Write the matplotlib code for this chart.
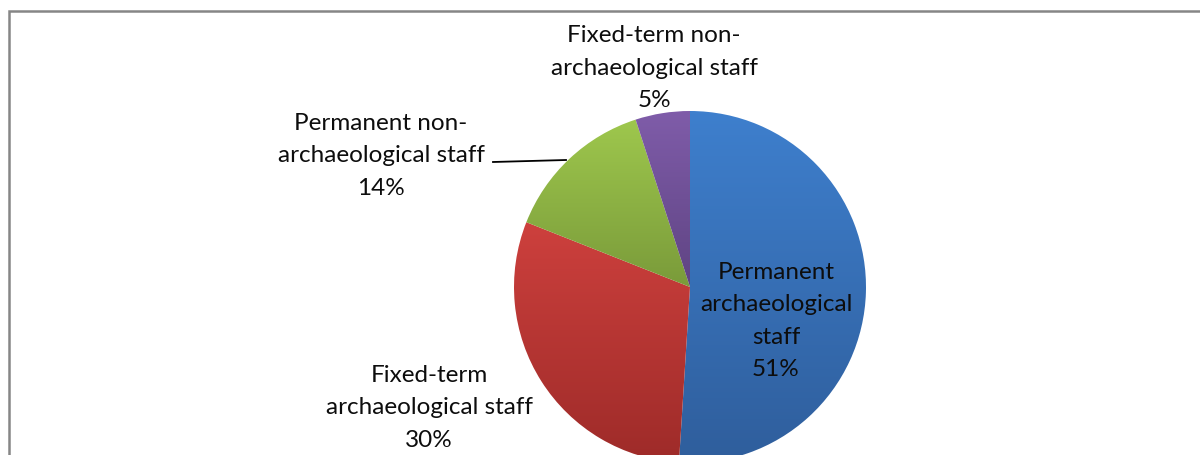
import numpy as np
import matplotlib.pyplot as plt
from matplotlib.colors import to_rgb
from matplotlib.patches import Rectangle

# staff breakdown
labels = ["Permanent\narchaeological\nstaff", "Fixed-term\narchaeological staff",
          "Permanent non-\narchaeological staff", "Fixed-term non-\narchaeological staff"]
shares = [51, 30, 14, 5]

# light (top) / dark (bottom) colour of each slice's gradient
tops = ["#3e7fcd", "#cd403d", "#9ec74d", "#7f5ca9"]
bottoms = ["#2f5e9c", "#9e2b29", "#7a9b3a", "#5f4483"]

plt.rcParams['font.family'] = ['Lato', 'DejaVu Sans']

W, H = 1200, 456
fig = plt.figure(figsize=(12, 4.56), dpi=100)
ax = fig.add_axes([0, 0, 1, 1])

cx, cy, r = 690, H - 288, 176
wedges, _ = ax.pie(shares, startangle=90, counterclock=False, radius=r,
                   center=(cx, cy), frame=True)
ax.set_xlim(0, W)
ax.set_ylim(0, H)
ax.set_aspect('equal')
ax.axis('off')

# vertical gradient inside every wedge
for w, c1, c2 in zip(wedges, tops, bottoms):
    w.set_facecolor('none')
    w.set_edgecolor('none')
    verts = w.get_patch_transform().transform(w.get_path().vertices)
    y0, y1 = verts[:, 1].min(), verts[:, 1].max()
    a, b = np.array(to_rgb(c1)), np.array(to_rgb(c2))
    t = np.linspace(0, 1, 64)[:, None]
    grad = (a * (1 - t) + b * t)[:, None, :]
    im = ax.imshow(grad, extent=(cx - r, cx + r, y0, y1), origin='upper',
                   aspect='auto', interpolation='bilinear', zorder=1)
    im.set_clip_path(w)

# data labels
pct = [f"{v}%" for v in shares]
spots = [(776, 321), (429, 408), (381, 156), (654, 68)]
for lab, p, (x, y) in zip(labels, pct, spots):
    ax.text(x, H - y, lab + "\n" + p, ha='center', va='center',
            fontsize=17.5, color='#0d0d0d', linespacing=1.68, zorder=3)

# leader line for the 14% slice
ax.plot([493, 566], [H - 163, H - 161], color='black', lw=1.3, zorder=3)

# chart frame (right and bottom edges fall outside the picture)
fig.patches.append(Rectangle((8.5 / W, -0.1), 1.2, (H - 11.5) / H + 0.1,
                             transform=fig.transFigure, fill=False,
                             edgecolor='#868686', lw=1.8))

fig.savefig("out.png", dpi=100)
